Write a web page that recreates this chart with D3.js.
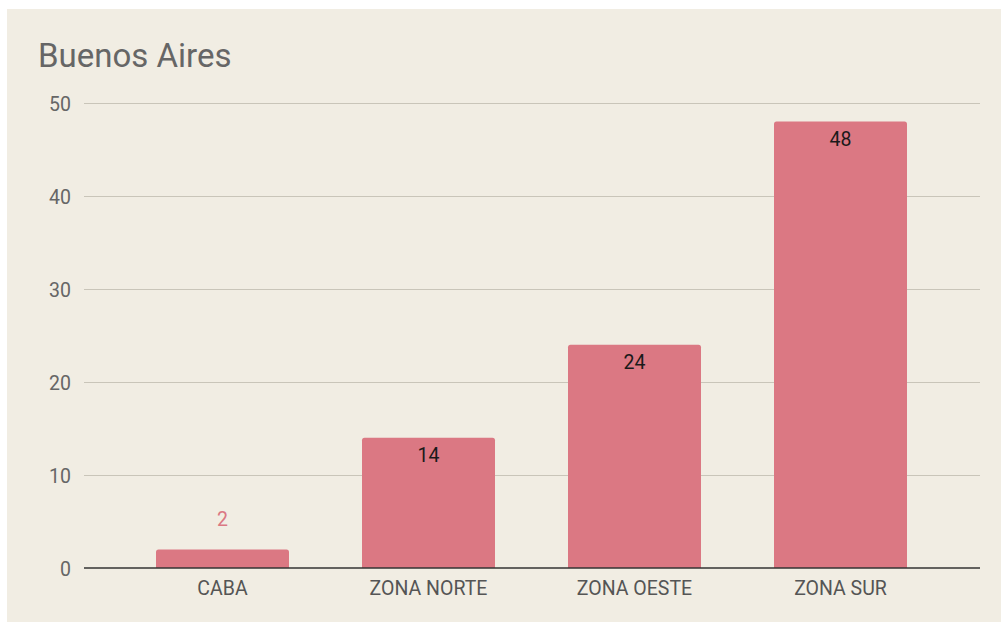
<!DOCTYPE html>
<html>
<head>
<meta charset="utf-8">
<script src="https://cdn.jsdelivr.net/npm/d3@7"></script>
<style>
  html, body { margin: 0; padding: 0; background: #ffffff; }
  svg { display: block; }
</style>
</head>
<body>
<svg id="chart" width="1001" height="622"></svg>
<script>
const title = "Buenos Aires";
const categories = ["CABA", "ZONA NORTE", "ZONA OESTE", "ZONA SUR"];
const values = [2, 14, 24, 48];
const yTicks = [0, 10, 20, 30, 40, 50];

const W = 1001, H = 622;
const svg = d3.select("#chart");
const font = "Roboto, 'Noto Sans', Arial, sans-serif";
const barColor = "#db7883";

svg.append("rect").attr("x", 7).attr("y", 9).attr("width", W - 7).attr("height", H - 9).attr("fill", "#f1ede3");

const y = d3.scaleLinear().domain([0, 50]).range([568, 103]);
const x = d3.scaleBand().domain(categories).range([119.5, 943.5]).paddingInner(0.3544).paddingOuter(0.1772);

// gridlines
svg.append("g").selectAll("line").data(yTicks.filter(d => d !== 0)).join("line")
  .attr("x1", 84).attr("x2", 980)
  .attr("y1", d => y(d) + 0.5).attr("y2", d => y(d) + 0.5)
  .attr("stroke", "#c9c5b9").attr("stroke-width", 1);

// y tick labels
svg.append("g").selectAll("text").data(yTicks).join("text")
  .attr("x", 71).attr("y", d => y(d) + 1)
  .attr("dy", "0.36em")
  .attr("text-anchor", "end")
  .attr("font-family", font).attr("font-size", 19.5)
  .attr("fill", "#666666")
  .text(d => d);

// bars with rounded top corners
function barPath(x0, w, yTop, yBase, r) {
  r = Math.min(r, (yBase - yTop));
  return `M${x0},${yBase} L${x0},${yTop + r} Q${x0},${yTop} ${x0 + r},${yTop} L${x0 + w - r},${yTop} Q${x0 + w},${yTop} ${x0 + w},${yTop + r} L${x0 + w},${yBase} Z`;
}
svg.append("g").selectAll("path").data(categories).join("path")
  .attr("d", (c, i) => barPath(x(c), x.bandwidth(), y(values[i]), y(0), 2.5))
  .attr("fill", barColor);

// baseline
svg.append("line").attr("x1", 84).attr("x2", 980).attr("y1", y(0)).attr("y2", y(0))
  .attr("stroke", "#333333").attr("stroke-width", 1.5);

// value labels
svg.append("g").selectAll("text").data(categories).join("text")
  .attr("x", c => x(c) + x.bandwidth() / 2)
  .attr("y", (c, i) => {
    const top = y(values[i]);
    return (y(0) - top) > 30 ? top + 17 : top - 30.5;
  })
  .attr("dy", "0.36em")
  .attr("text-anchor", "middle")
  .attr("font-family", font).attr("font-size", 19.5)
  .attr("fill", (c, i) => (y(0) - y(values[i])) > 30 ? "#1a1a1a" : barColor)
  .text((c, i) => values[i]);

// category labels
svg.append("g").selectAll("text").data(categories).join("text")
  .attr("x", c => x(c) + x.bandwidth() / 2)
  .attr("y", 588)
  .attr("dy", "0.36em")
  .attr("text-anchor", "middle")
  .attr("font-family", font).attr("font-size", 19.5)
  .attr("fill", "#555555")
  .text(c => c);

// title
svg.append("text").attr("x", 38).attr("y", 67)
  .attr("font-family", font).attr("font-size", 33)
  .attr("fill", "#666666")
  .text(title);
</script>
</body>
</html>
